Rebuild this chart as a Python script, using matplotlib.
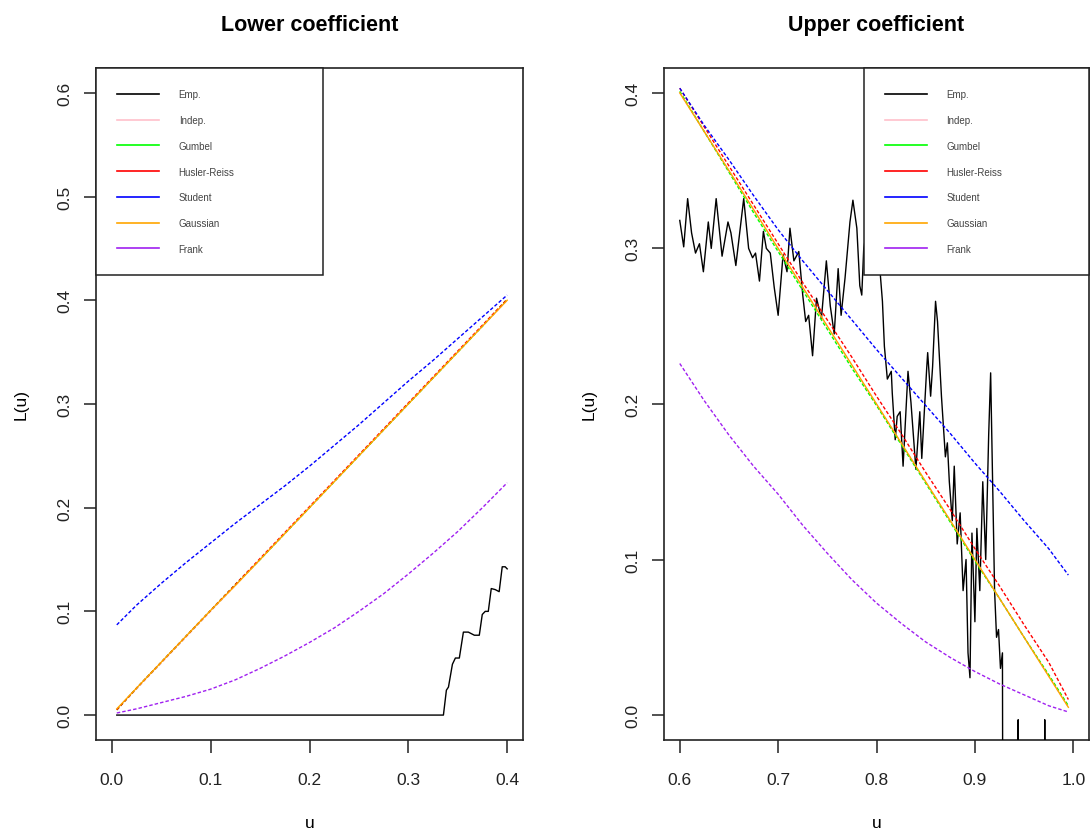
import matplotlib as mpl
mpl.use('Agg')

import matplotlib.pyplot as plt
import numpy as np

plt.rcParams['font.family'] = ['Liberation Sans', 'DejaVu Sans']

labels = ['Emp.', 'Indep.', 'Gumbel', 'Husler-Reiss', 'Student', 'Gaussian', 'Frank']
colors = ['black', 'pink', '#00ff00', '#ff0000', '#0000ff', '#ffa500', '#a020f0']

# lower coefficient, model curves
u_low = [0.005, 0.025, 0.05, 0.075, 0.1, 0.125, 0.15, 0.175, 0.2, 0.225, 0.25,
         0.275, 0.3, 0.325, 0.35, 0.375, 0.4]
low_indep = [0.005, 0.025, 0.05, 0.075, 0.1, 0.125, 0.15, 0.175, 0.2, 0.225, 0.25,
             0.275, 0.3, 0.325, 0.35, 0.375, 0.4]
low_gumbel = [0.005, 0.026, 0.051, 0.076, 0.101, 0.126, 0.150, 0.175, 0.200, 0.225,
              0.250, 0.275, 0.300, 0.325, 0.350, 0.375, 0.401]
low_hr = [0.005, 0.026, 0.051, 0.076, 0.101, 0.126, 0.151, 0.176, 0.201, 0.226,
          0.251, 0.276, 0.301, 0.326, 0.351, 0.376, 0.401]
low_student = [0.087, 0.106, 0.127, 0.147, 0.166, 0.185, 0.203, 0.221, 0.240, 0.260,
               0.280, 0.301, 0.322, 0.342, 0.363, 0.384, 0.405]
low_gauss = [0.006, 0.026, 0.051, 0.076, 0.101, 0.125, 0.150, 0.175, 0.200, 0.225,
             0.250, 0.275, 0.300, 0.325, 0.350, 0.375, 0.400]
low_frank = [0.002, 0.006, 0.012, 0.018, 0.025, 0.034, 0.045, 0.057, 0.070, 0.084,
             0.100, 0.117, 0.136, 0.156, 0.177, 0.200, 0.224]

# lower coefficient, empirical
emp_low_u = [0.005, 0.3355, 0.3385, 0.3406, 0.3446, 0.3476, 0.3516, 0.3557, 0.3607,
             0.3668, 0.3718, 0.3748, 0.3778, 0.3809, 0.3839, 0.3879, 0.3919, 0.395,
             0.398, 0.4]
emp_low = [0.0, 0.0, 0.024, 0.027, 0.049, 0.055, 0.055, 0.080, 0.080,
           0.077, 0.077, 0.097, 0.100, 0.100, 0.122, 0.121, 0.119, 0.143,
           0.143, 0.141]

# upper coefficient, model curves
u_up = [0.6, 0.625, 0.65, 0.675, 0.7, 0.725, 0.75, 0.775, 0.8, 0.825, 0.85, 0.875,
        0.9, 0.925, 0.95, 0.975, 0.995]
up_indep = [0.4, 0.375, 0.35, 0.325, 0.3, 0.275, 0.25, 0.225, 0.2, 0.175, 0.15,
            0.125, 0.1, 0.075, 0.05, 0.025, 0.005]
up_gumbel = [0.401, 0.375, 0.349, 0.323, 0.298, 0.273, 0.248, 0.223, 0.199, 0.174,
             0.149, 0.124, 0.099, 0.075, 0.050, 0.026, 0.006]
up_hr = [0.403, 0.378, 0.353, 0.328, 0.303, 0.278, 0.254, 0.230, 0.205, 0.181,
         0.156, 0.132, 0.107, 0.083, 0.058, 0.034, 0.010]
up_student = [0.403, 0.379, 0.357, 0.334, 0.312, 0.292, 0.273, 0.254, 0.235, 0.217,
              0.199, 0.181, 0.162, 0.144, 0.125, 0.107, 0.090]
up_gauss = [0.400, 0.375, 0.350, 0.325, 0.300, 0.275, 0.250, 0.225, 0.200, 0.175,
            0.150, 0.125, 0.100, 0.075, 0.050, 0.025, 0.005]
up_frank = [0.226, 0.202, 0.180, 0.160, 0.142, 0.122, 0.104, 0.087, 0.072, 0.059,
            0.047, 0.037, 0.028, 0.020, 0.013, 0.006, 0.002]

# upper coefficient, empirical
emp_up_u = [0.600, 0.604, 0.608, 0.612, 0.616, 0.620, 0.624, 0.629, 0.632, 0.637,
            0.643, 0.649, 0.652, 0.657, 0.665, 0.670, 0.674, 0.677, 0.681, 0.685,
            0.688, 0.692, 0.696, 0.700, 0.705, 0.709, 0.712, 0.716, 0.721, 0.725,
            0.728, 0.731, 0.735, 0.739, 0.744, 0.749, 0.753, 0.757, 0.761, 0.764,
            0.768, 0.773, 0.776, 0.780, 0.783, 0.785, 0.787, 0.792, 0.797, 0.802,
            0.804, 0.806, 0.808, 0.811, 0.815, 0.816, 0.819, 0.821, 0.824, 0.827,
            0.832, 0.835, 0.840, 0.844, 0.846, 0.851, 0.852, 0.855, 0.857, 0.860,
            0.862, 0.866, 0.870, 0.872, 0.874, 0.877, 0.879, 0.882, 0.885, 0.888,
            0.891, 0.893, 0.895, 0.897, 0.900, 0.902, 0.905, 0.908, 0.911, 0.914,
            0.916, 0.918, 0.920, 0.922, 0.924, 0.926, 0.928, 0.929, 0.9435, 0.944,
            0.9445, 0.9705, 0.971, 0.9715, 0.99]
emp_up = [0.318, 0.301, 0.332, 0.310, 0.297, 0.303, 0.285, 0.317, 0.300, 0.332,
          0.295, 0.317, 0.310, 0.289, 0.332, 0.300, 0.294, 0.297, 0.279, 0.311,
          0.300, 0.297, 0.275, 0.257, 0.296, 0.285, 0.313, 0.292, 0.298, 0.270,
          0.253, 0.257, 0.231, 0.268, 0.255, 0.292, 0.263, 0.245, 0.287, 0.257,
          0.281, 0.317, 0.331, 0.313, 0.276, 0.270, 0.300, 0.320, 0.290, 0.310,
          0.282, 0.266, 0.237, 0.216, 0.221, 0.207, 0.177, 0.192, 0.195, 0.160,
          0.221, 0.201, 0.158, 0.195, 0.165, 0.223, 0.233, 0.205, 0.224, 0.266,
          0.253, 0.205, 0.166, 0.175, 0.150, 0.125, 0.160, 0.110, 0.130, 0.080,
          0.100, 0.040, 0.024, 0.117, 0.060, 0.120, 0.080, 0.150, 0.100, 0.180,
          0.220, 0.150, 0.080, 0.050, 0.055, 0.030, 0.040, -0.3, -0.3, -0.003,
          -0.3, -0.3, -0.003, -0.3, -0.3]

fig = plt.figure(figsize=(10.9, 8.29), dpi=100)
ax1 = fig.add_axes([0.0881, 0.1062, 0.3917, 0.8106])
ax2 = fig.add_axes([0.6092, 0.1062, 0.3899, 0.8106])

dash = (0, (2.5, 1.5))


def draw_panel(ax, u, emp_u, emp, models, xlim, ylim, xticks, yticks, title):
    ax.plot(emp_u, emp, color='black', lw=1.0, zorder=3)
    for vals, c in zip(models, colors[1:]):
        ls = '-' if c == '#ffa500' else dash
        ax.plot(u, vals, color=c, lw=1.0, ls=ls, zorder=3)
    ax.set_xlim(xlim)
    ax.set_ylim(ylim)
    ax.set_xticks(xticks)
    ax.set_yticks(yticks)
    ax.set_xticklabels(['%.1f' % t for t in xticks])
    ax.set_yticklabels(['%.1f' % t for t in yticks], rotation=90, va='center')
    ax.tick_params(length=9, width=1.1, labelsize=12.5, colors='#222222')
    ax.tick_params(axis='x', pad=14)
    ax.tick_params(axis='y', pad=8)
    for s in ax.spines.values():
        s.set_linewidth(1.2)
        s.set_color('#222222')
    ax.set_xlabel('u', fontsize=12.5, labelpad=20)
    ax.set_ylabel('L(u)', fontsize=12.5, labelpad=21)
    ax.set_title(title, fontsize=15.5, fontweight='bold', pad=27)


draw_panel(ax1, u_low, emp_low_u, emp_low,
           [low_indep, low_gumbel, low_hr, low_student, low_gauss, low_frank],
           (-0.016, 0.416), (-0.024, 0.624), [0.0, 0.1, 0.2, 0.3, 0.4],
           [0.0, 0.1, 0.2, 0.3, 0.4, 0.5, 0.6], 'Lower coefficient')
draw_panel(ax2, u_up, emp_up_u, emp_up,
           [up_indep, up_gumbel, up_hr, up_student, up_gauss, up_frank],
           (0.584, 1.016), (-0.016, 0.416), [0.6, 0.7, 0.8, 0.9, 1.0],
           [0.0, 0.1, 0.2, 0.3, 0.4], 'Upper coefficient')

handles = [plt.Line2D([], [], color=c, lw=1.2) for c in colors]
for ax, anchor in [(ax1, (0.0, 0.0, 0.532, 1.0)), (ax2, (0.47, 0.0, 0.53, 1.0))]:
    leg = ax.legend(handles, labels, loc='upper left', bbox_to_anchor=anchor,
                    mode='expand', fontsize=7, labelspacing=1.62, borderpad=2.2,
                    handlelength=4.3, handletextpad=2.0, borderaxespad=0.0,
                    fancybox=False, framealpha=1.0, edgecolor='#222222')
    leg.get_frame().set_linewidth(1.1)
    leg.set_zorder(5)
    for t in leg.get_texts():
        t.set_color('#444444')

fig.savefig('out.png', dpi=100)
